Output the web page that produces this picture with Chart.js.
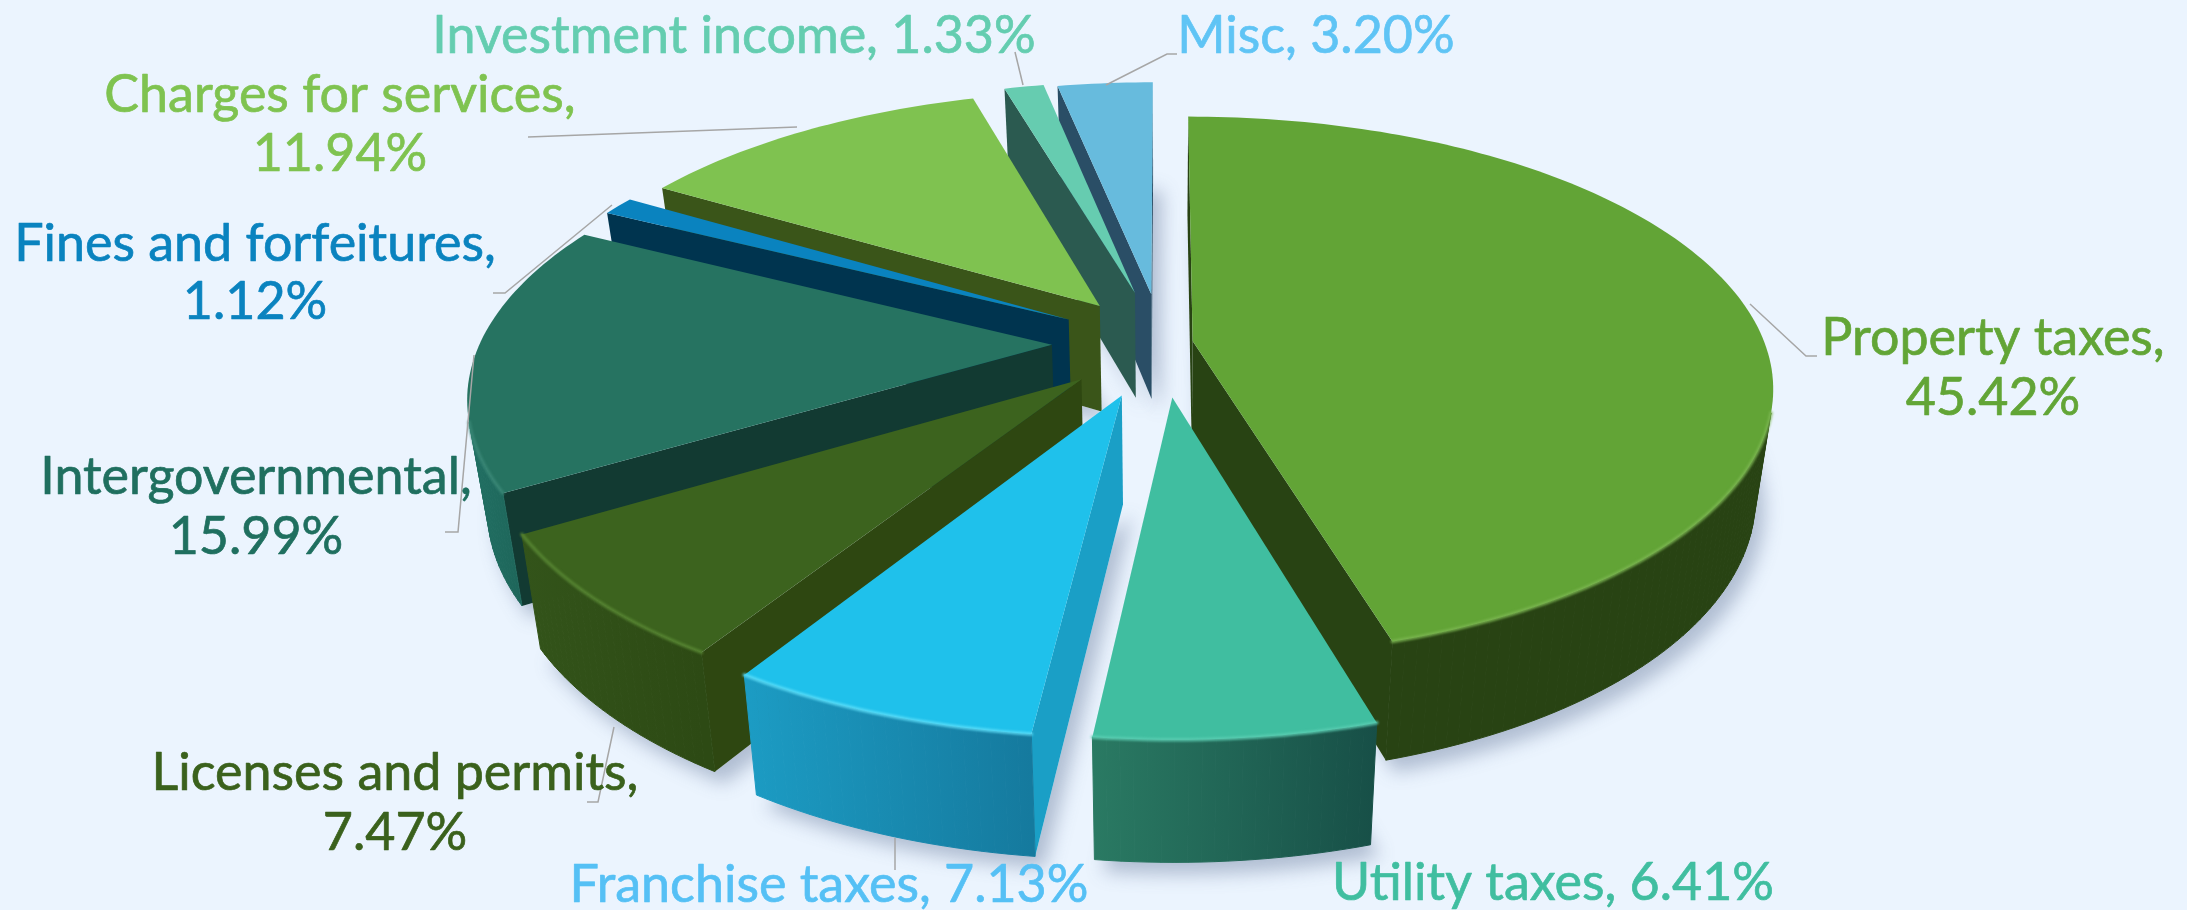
<!DOCTYPE html>
<html><head><meta charset="utf-8">
<style>html,body{margin:0;padding:0;background:#EBF4FE;overflow:hidden}canvas{display:block}</style>
<script src="https://cdn.jsdelivr.net/npm/chart.js@4"></script>
</head><body><canvas id="c" width="2187" height="910"></canvas>
<script>
const categories=["Property taxes","Utility taxes","Franchise taxes","Licenses and permits","Intergovernmental","Fines and forfeitures","Charges for services","Investment income","Misc"];
const shares=[45.42,6.41,7.13,7.47,15.99,1.12,11.94,1.33,3.20];
const topColors=["#62A436","#40BEA0","#1FC1EB","#3C631E","#267361","#0A83BF","#7FC250","#66CCB0","#67BBDD"];
const wallColors=["#284313","#1F6558","#1A9FC6","#2E4711","#123A32","#00344F","#3A5519","#2B5A50","#2A4E66"];
const rimLeft=["#284313","#2A7A63","#1C9CC4","#33541A","#217063","#00344F","#3A5519","#2B5A50","#2A4E66"];
const rimRight=["#284313","#174F47","#157A9E","#2D4A14","#1A5A50","#00344F","#3A5519","#2B5A50","#2A4E66"];
const highlight=["#7DB853","#5CD0B4","#5FE0FA","#5A8A34","#3C8A78","#0A83BF","#7FC250","#66CCB0","#67BBDD"];
const textColors=["#62A536","#40BEA0","#55C0F5","#3A611C","#1F6F5F","#0A83BF","#7FC350","#64CDB0","#5FC4F5"];
const explode=[31,115,117,110,110,108,104,116,110];

const cam={cx:1162,cy:343,R:572,k:0.46,p:0.17,D:110,q:0.03};
function proj(X,Y,Z){const s=1/(1-cam.p*Y/cam.R)/(1+cam.q*Z/cam.D);return [cam.cx+X*s,cam.cy+(cam.k*Y+Z)*s];}

const layout=[
 {x:1993,y:[355,415],split:true,lead:[[1750,304],[1806,356],[1817,356]]},
 {x:1553,y:[900],split:false,lead:null},
 {x:829,y:[902],split:false,lead:[[895,838],[895,870]]},
 {x:395,y:[790,850],split:true,lead:[[614,727],[598,802],[587,802]]},
 {x:256,y:[494,554],split:true,lead:[[474,355],[458,532],[445,532]]},
 {x:255,y:[261,319],split:true,lead:[[612,205],[505,293],[493,293]]},
 {x:340,y:[112,171],split:true,lead:[[797,127],[528,137]]},
 {x:734,y:[53],split:false,lead:[[1023,85],[1015,52]]},
 {x:1316,y:[53],split:false,lead:[[1106,85],[1167,54],[1177,54]]}
];

function slicePts(el){
 const a0=el.startAngle,a1=el.endAngle,off=el.options.offset,mid=(a0+a1)/2;
 const ox=Math.cos(mid)*off,oy=Math.sin(mid)*off,n=Math.max(3,Math.ceil((a1-a0)/0.02)),rim=[];
 for(let i=0;i<=n;i++){const a=a0+(a1-a0)*i/n;rim.push([ox+Math.cos(a)*cam.R,oy+Math.sin(a)*cam.R]);}
 return {apex:[ox,oy],rim,midY:Math.sin(mid)};
}
function poly(ctx,pts){ctx.beginPath();pts.forEach((p,i)=>i?ctx.lineTo(p[0],p[1]):ctx.moveTo(p[0],p[1]));ctx.closePath();}
function area(q){let a=0;for(let i=0;i<q.length;i++){const u=q[i],v=q[(i+1)%q.length];a+=u[0]*v[1]-v[0]*u[1];}return a;}

const pie3d={id:'pie3d',
 beforeDatasetsDraw(chart){
  const ctx=chart.ctx,arcs=chart.getDatasetMeta(0).data;
  const items=arcs.map((el,i)=>({i,...slicePts(el)})).sort((a,b)=>a.midY-b.midY);
  const D=cam.D;
  ctx.save();
  ctx.shadowColor='rgba(95,115,150,0.42)';ctx.shadowBlur=18;ctx.shadowOffsetX=9;ctx.shadowOffsetY=12;ctx.fillStyle='#EBF4FE';
  items.forEach(s=>{
    const pts=[proj(s.apex[0],s.apex[1],D),...s.rim.map(p=>proj(p[0],p[1],D))];
    poly(ctx,pts);ctx.fill();
  });
  ctx.restore();
  items.forEach(s=>{
   const i=s.i,a=proj(s.apex[0],s.apex[1],0),ab=proj(s.apex[0],s.apex[1],D);
   const T=s.rim.map(p=>proj(p[0],p[1],0)),B=s.rim.map(p=>proj(p[0],p[1],D));
   const qs=[a,T[0],B[0],ab],qe=[a,T[T.length-1],B[B.length-1],ab];
   ctx.fillStyle=wallColors[i];
   if(area(qs)<0){poly(ctx,qs);ctx.fill();}
   if(area(qe)>0){poly(ctx,qe);ctx.fill();}
   const xs=T.map(p=>p[0]),g=ctx.createLinearGradient(Math.min(...xs),0,Math.max(...xs),0);
   g.addColorStop(0,rimLeft[i]);g.addColorStop(1,rimRight[i]);
   ctx.fillStyle=g;ctx.strokeStyle=g;ctx.lineWidth=1;
   for(let j=0;j<T.length-1;j++){
     const q=[T[j],T[j+1],B[j+1],B[j]];
     if(area(q)<0){poly(ctx,q);ctx.fill();ctx.stroke();}
   }
   ctx.fillStyle=topColors[i];poly(ctx,[a,...T]);ctx.fill();
   ctx.save();ctx.strokeStyle=highlight[i];ctx.lineWidth=3.5;ctx.globalAlpha=.8;ctx.lineCap='round';
   ctx.filter='blur(0.8px)';
   ctx.beginPath();let on=false;
   for(let j=0;j<T.length-1;j++){
     if(area([T[j],T[j+1],B[j+1],B[j]])<0){ if(!on){ctx.moveTo(T[j][0],T[j][1]);on=true;} ctx.lineTo(T[j+1][0],T[j+1][1]); }
   }
   ctx.stroke();ctx.restore();
  });
  return false;
 },
 afterDraw(chart){
  const ctx=chart.ctx;
  ctx.save();
  ctx.strokeStyle='#A6A6A6';ctx.lineWidth=1.5;
  layout.forEach(l=>{ if(!l.lead)return; ctx.beginPath(); l.lead.forEach((p,j)=>j?ctx.lineTo(p[0],p[1]):ctx.moveTo(p[0],p[1])); ctx.stroke(); });
  ctx.font='52px Lato, "Open Sans", sans-serif';ctx.textAlign='center';ctx.textBaseline='alphabetic';ctx.lineWidth=.7;ctx.lineJoin='round';
  const put=(t,x,y)=>{ctx.fillText(t,x,y);ctx.strokeText(t,x,y);};
  layout.forEach((l,i)=>{
   const val=shares[i].toFixed(2)+'%';
   ctx.fillStyle=textColors[i];ctx.strokeStyle=textColors[i];
   if(l.split){put(categories[i]+',',l.x,l.y[0]);put(val,l.x,l.y[1]);}
   else put(categories[i]+', '+val,l.x,l.y[0]);
  });
  ctx.restore();
 }
};

new Chart(document.getElementById('c'),{
 type:'pie',
 data:{labels:categories,datasets:[{data:shares,backgroundColor:topColors,offset:explode,borderWidth:0}]},
 options:{responsive:false,animation:false,events:[],plugins:{legend:{display:false},tooltip:{enabled:false}}},
 plugins:[pie3d]
});
</script></body></html>
